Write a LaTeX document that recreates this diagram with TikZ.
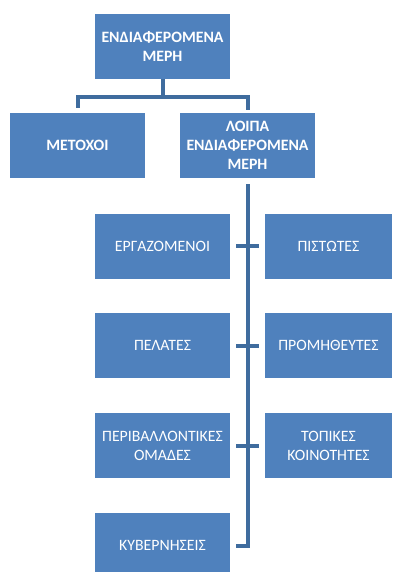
\documentclass[tikz,border=0pt]{standalone}
\usepackage{fontspec}
\setmainfont{Carlito}
\definecolor{boxblue}{HTML}{4F81BD}
\definecolor{linkblue}{HTML}{3F6C9E}
\begin{document}
\begin{tikzpicture}[x=1pt,y=-1pt,
		box/.style={fill=boxblue,text=white,align=center,inner sep=0pt,minimum height=65pt,
			font=\fontsize{15.8}{19}\selectfont},
		wide/.style={minimum width=135pt},
		narrow/.style={minimum width=127pt},
		heavy/.style={font=\fontsize{15.8}{19}\selectfont\bfseries},
		link/.style={draw=linkblue,line width=4pt}]
			\def\lx{162.5}
			\def\rx{328.5}
			\useasboundingbox (0,0) rectangle (393,572);
			\clip (0,0) rectangle (393,572);
			% first levels
			\node[box,wide,heavy] (stake) at (\lx,46.5) {ΕΝΔΙΑΦΕΡΟΜΕΝΑ\\ΜΕΡΗ};
			\node[box,wide,heavy] (share) at (77.5,145.5) {ΜΕΤΟΧΟΙ};
			\node[box,wide,heavy] (other) at (247.5,145.5) {ΛΟΙΠΑ\\ΕΝΔΙΑΦΕΡΟΜΕΝΑ\\ΜΕΡΗ};
			% the rest
			\node[box,wide] (staff) at (\lx,246) {ΕΡΓΑΖΟΜΕΝΟΙ};
			\node[box,narrow] (lend) at (\rx,246) {ΠΙΣΤΩΤΕΣ};
			\node[box,wide] (client) at (\lx,345.5) {ΠΕΛΑΤΕΣ};
			\node[box,narrow] (supply) at (\rx,345.5) {ΠΡΟΜΗΘΕΥΤΕΣ};
			\node[box,wide] (green) at (\lx,445.5) {ΠΕΡΙΒΑΛΛΟΝΤΙΚΕΣ\\ΟΜΑΔΕΣ};
			\node[box,narrow] (local) at (\rx,445.5) {ΤΟΠΙΚΕΣ\\ΚΟΙΝΟΤΗΤΕΣ};
			\node[box,wide] (gov) at (\lx,545.5) {ΚΥΒΕΡΝΗΣΕΙΣ};
			% links
			\draw[link] (stake.south) -- ++(0,18) coordinate (bar);
			\draw[link] (bar) -| ([yshift=5pt]share.north);
			\draw[link] (bar) -| ([yshift=3pt]other.north);
			\draw[link] ([yshift=-6pt]other.south) |- ([xshift=6pt]gov.east);
			\foreach \a/\b in {staff/lend,client/supply,green/local}
				\draw[link] ([xshift=6pt]\a.east) -- ([xshift=-6pt]\b.west);
\end{tikzpicture}
\end{document}
